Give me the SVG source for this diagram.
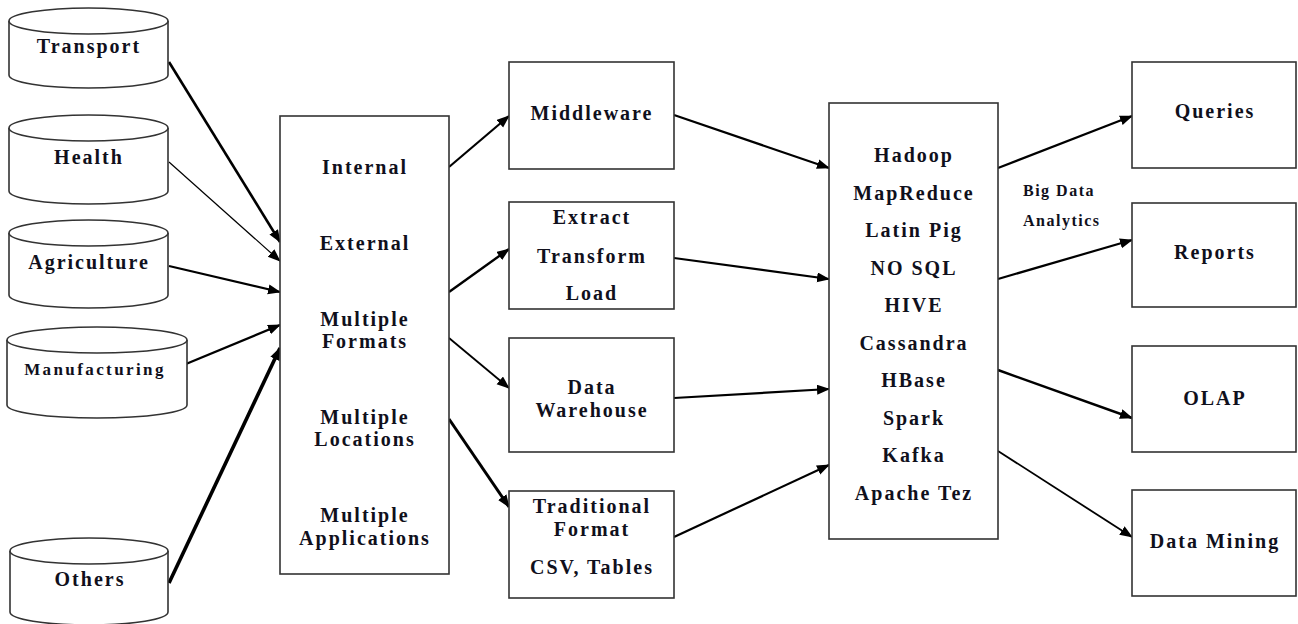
<svg xmlns="http://www.w3.org/2000/svg" width="1298" height="624" viewBox="0 0 1298 624">
<style>
.shape{fill:#fff;stroke:#333;stroke-width:1.6}
.t{font-family:"Liberation Serif","Times New Roman",serif;font-weight:bold;font-size:20px;letter-spacing:2px;fill:#10101c;text-anchor:middle}
.s{font-size:17px;letter-spacing:2.4px}
.small{font-family:"Liberation Serif","Times New Roman",serif;font-weight:bold;font-size:16px;letter-spacing:1.5px;fill:#10101c}
.c{fill:none;stroke:#000;marker-end:url(#ah)}
</style>
<defs>
<marker id="ah" markerUnits="userSpaceOnUse" markerWidth="14" markerHeight="12" refX="12" refY="5" orient="auto">
<path d="M0,0 L13,5 L0,10 Z" fill="#000"/>
</marker>
</defs>
<rect width="1298" height="624" fill="#fff"/>

<g id="connectors">
<line class="c" x1="169" y1="62" x2="280" y2="242" stroke-width="2.6"/>
<line class="c" x1="169" y1="162" x2="280" y2="261" stroke-width="1.2"/>
<line class="c" x1="169" y1="266" x2="280" y2="292" stroke-width="2.2"/>
<line class="c" x1="169" y1="371" x2="280" y2="325" stroke-width="2.2"/>
<line class="c" x1="169" y1="583" x2="280" y2="348" stroke-width="3.6"/>
<line class="c" x1="449" y1="167" x2="509" y2="116" stroke-width="2.2"/>
<line class="c" x1="449" y1="292" x2="509" y2="249" stroke-width="2.4"/>
<line class="c" x1="449" y1="338" x2="509" y2="388" stroke-width="1.8"/>
<line class="c" x1="449" y1="419" x2="509" y2="507" stroke-width="3"/>
<line class="c" x1="674" y1="115" x2="829" y2="168" stroke-width="2.2"/>
<line class="c" x1="674" y1="258" x2="829" y2="279" stroke-width="2.2"/>
<line class="c" x1="674" y1="398" x2="829" y2="389" stroke-width="2.2"/>
<line class="c" x1="674" y1="537" x2="829" y2="465" stroke-width="2.2"/>
<line class="c" x1="998" y1="168" x2="1132" y2="116" stroke-width="2.2"/>
<line class="c" x1="998" y1="279" x2="1132" y2="240" stroke-width="2.2"/>
<line class="c" x1="998" y1="370" x2="1132" y2="418" stroke-width="2.4"/>
<line class="c" x1="998" y1="451" x2="1132" y2="537" stroke-width="1.8"/>
</g>

<g id="transport">
<path class="shape" d="M9,21 A79.5,13 0 0 1 168,21 L168,75 A79.5,13 0 0 1 9,75 Z"/>
<path class="shape" fill="none" d="M9,21 A79.5,13 0 0 0 168,21"/>
<text class="t" x="89" y="53">Transport</text>
</g>
<g id="health">
<path class="shape" d="M9,128 A79.5,13 0 0 1 168,128 L168,191 A79.5,13 0 0 1 9,191 Z"/>
<path class="shape" d="M9,128 A79.5,13 0 0 0 168,128"/>
<text class="t" x="89" y="164">Health</text>
</g>
<g id="agriculture">
<path class="shape" d="M9,233 A79.5,13 0 0 1 168,233 L168,295 A79.5,13 0 0 1 9,295 Z"/>
<path class="shape" d="M9,233 A79.5,13 0 0 0 168,233"/>
<text class="t" x="89" y="269">Agriculture</text>
</g>
<g id="manufacturing">
<path class="shape" d="M7,340 A90,13 0 0 1 187,340 L187,405 A90,13 0 0 1 7,405 Z"/>
<path class="shape" d="M7,340 A90,13 0 0 0 187,340"/>
<text class="t s" x="95" y="375">Manufacturing</text>
</g>
<g id="others">
<path class="shape" d="M10,551 A79,13 0 0 1 168,551 L168,612 A79,13 0 0 1 10,612 Z"/>
<path class="shape" d="M10,551 A79,13 0 0 0 168,551"/>
<text class="t" x="90" y="586">Others</text>
</g>

<g id="sources">
<rect class="shape" x="280" y="116" width="169" height="458"/>
<text class="t" x="365" y="174">Internal</text>
<text class="t" x="365" y="250">External</text>
<text class="t" x="365" y="326">Multiple</text>
<text class="t" x="365" y="348">Formats</text>
<text class="t" x="365" y="424">Multiple</text>
<text class="t" x="365" y="446">Locations</text>
<text class="t" x="365" y="522">Multiple</text>
<text class="t" x="365" y="545">Applications</text>
</g>

<g id="middleware">
<rect class="shape" x="509" y="62" width="165" height="107"/>
<text class="t" x="592" y="120">Middleware</text>
</g>
<g id="etl">
<rect class="shape" x="509" y="202" width="165" height="107"/>
<text class="t" x="592" y="224">Extract</text>
<text class="t" x="592" y="263">Transform</text>
<text class="t" x="592" y="300">Load</text>
</g>
<g id="warehouse">
<rect class="shape" x="509" y="338" width="165" height="114"/>
<text class="t" x="592" y="394">Data</text>
<text class="t" x="592" y="417">Warehouse</text>
</g>
<g id="traditional">
<rect class="shape" x="509" y="491" width="165" height="107"/>
<text class="t" x="592" y="513">Traditional</text>
<text class="t" x="592" y="536">Format</text>
<text class="t" x="592" y="574">CSV, Tables</text>
</g>

<g id="bigdata">
<rect class="shape" x="829" y="103" width="169" height="436"/>
<text class="t" x="914" y="162">Hadoop</text>
<text class="t" x="914" y="200">MapReduce</text>
<text class="t" x="914" y="237">Latin Pig</text>
<text class="t" x="914" y="275">NO SQL</text>
<text class="t" x="914" y="312">HIVE</text>
<text class="t" x="914" y="350">Cassandra</text>
<text class="t" x="914" y="387">HBase</text>
<text class="t" x="914" y="425">Spark</text>
<text class="t" x="914" y="462">Kafka</text>
<text class="t" x="914" y="500">Apache Tez</text>
</g>

<g id="label-analytics">
<text class="small" x="1023" y="196">Big Data</text>
<text class="small" x="1023" y="226">Analytics</text>
</g>

<g id="queries">
<rect class="shape" x="1132" y="62" width="164" height="106"/>
<text class="t" x="1215" y="118">Queries</text>
</g>
<g id="reports">
<rect class="shape" x="1132" y="203" width="164" height="104"/>
<text class="t" x="1215" y="259">Reports</text>
</g>
<g id="olap">
<rect class="shape" x="1132" y="346" width="164" height="106"/>
<text class="t" x="1215" y="405">OLAP</text>
</g>
<g id="datamining">
<rect class="shape" x="1132" y="490" width="164" height="106"/>
<text class="t" x="1215" y="548">Data Mining</text>
</g>
</svg>
